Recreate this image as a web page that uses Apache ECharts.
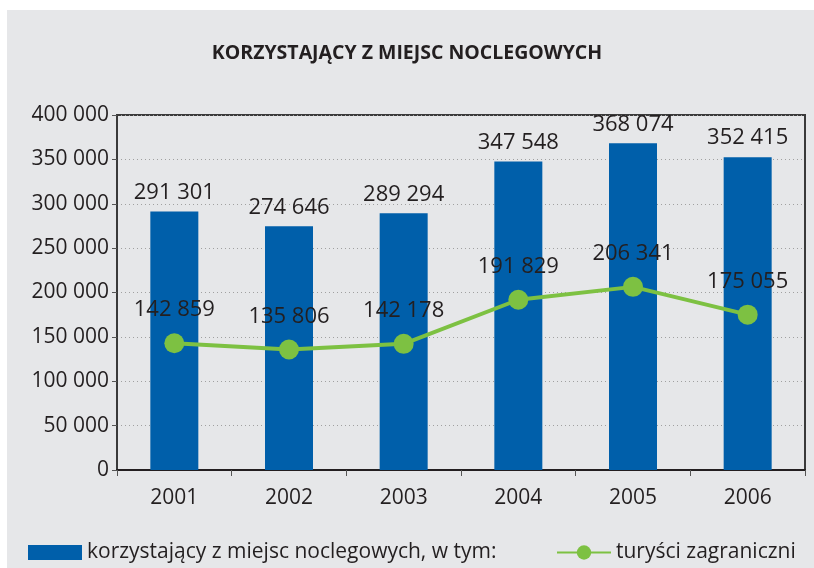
<!DOCTYPE html>
<html><head><meta charset="utf-8">
<script src="https://cdn.jsdelivr.net/npm/echarts@6/dist/echarts.min.js"></script>
<style>html,body{margin:0;padding:0;background:#fff}#c{width:814px;height:568px}</style>
</head><body><div id="c"></div>
<script>
const years = ['2001','2002','2003','2004','2005','2006'];
const totalGuests = [291301, 274646, 289294, 347548, 368074, 352415];
const foreignTourists = [142859, 135806, 142178, 191829, 206341, 175055];
const yTicks = [0, 50000, 100000, 150000, 200000, 250000, 300000, 350000, 400000];
const fmt = v => String(v).replace(/\B(?=(\d{3})+(?!\d))/g, ' ');
const FONT = '"Open Sans", sans-serif';
const chart = echarts.init(document.getElementById('c'));
chart.setOption({
  animation: false,
  backgroundColor: '#fff',
  graphic: [{type:'rect', shape:{x:7,y:10,width:807,height:558}, style:{fill:'#e6e7e9'}, z:-10}],
  title: {text:'KORZYSTAJĄCY Z MIEJSC NOCLEGOWYCH', left:'center', top:38,
    textStyle:{fontFamily:FONT, fontWeight:'bold', fontSize:19.5, color:'#231f20'}},
  legend: [
    {data:[{name:'korzystający z miejsc noclegowych, w tym:', icon:'rect'}], left:28, top:542, padding:0, itemWidth:54, itemHeight:15,
     textStyle:{fontFamily:FONT, fontSize:21, color:'#231f20'}},
    {data:[{name:'turyści zagraniczni'}], left:556, top:542, padding:0, itemWidth:54, itemHeight:18,
     textStyle:{fontFamily:FONT, fontSize:21, color:'#231f20'}}
  ],
  grid: {left:117, right:9, top:115, bottom:98, show:true, borderColor:'#3a3a3a', borderWidth:2, backgroundColor:'transparent'},
  xAxis: {type:'category', data:years,
    axisLine:{lineStyle:{color:'#231f20', width:2}},
    axisTick:{show:true, length:6, lineStyle:{color:'#555'}},
    axisLabel:{fontFamily:FONT, fontSize:21, color:'#231f20', margin:18}},
  yAxis: {type:'value', min:0, max:400000, interval:50000,
    axisLine:{show:true, lineStyle:{color:'#3a3a3a', width:2}},
    axisTick:{show:true, length:5, lineStyle:{color:'#555'}},
    axisLabel:{fontFamily:FONT, fontSize:21, color:'#231f20', margin:8, formatter: v => fmt(v)},
    splitLine:{lineStyle:{color:'#a0a0a0', type:[1,3], width:1}}},
  series: [
    {name:'korzystający z miejsc noclegowych, w tym:', type:'bar', data:totalGuests, barWidth:48,
     itemStyle:{color:'#005faa'},
     label:{show:true, position:'top', distance:8, fontFamily:FONT, fontSize:22, color:'#231f20', formatter:p=>fmt(p.value)}},
    {name:'turyści zagraniczni', type:'line', data:foreignTourists, symbol:'circle', symbolSize:20,
     lineStyle:{color:'#7dc142', width:4}, itemStyle:{color:'#7dc142'},
     label:{show:true, position:'top', distance:12, fontFamily:FONT, fontSize:22, color:'#231f20', formatter:p=>fmt(p.value)}}
  ]
});
</script></body></html>
